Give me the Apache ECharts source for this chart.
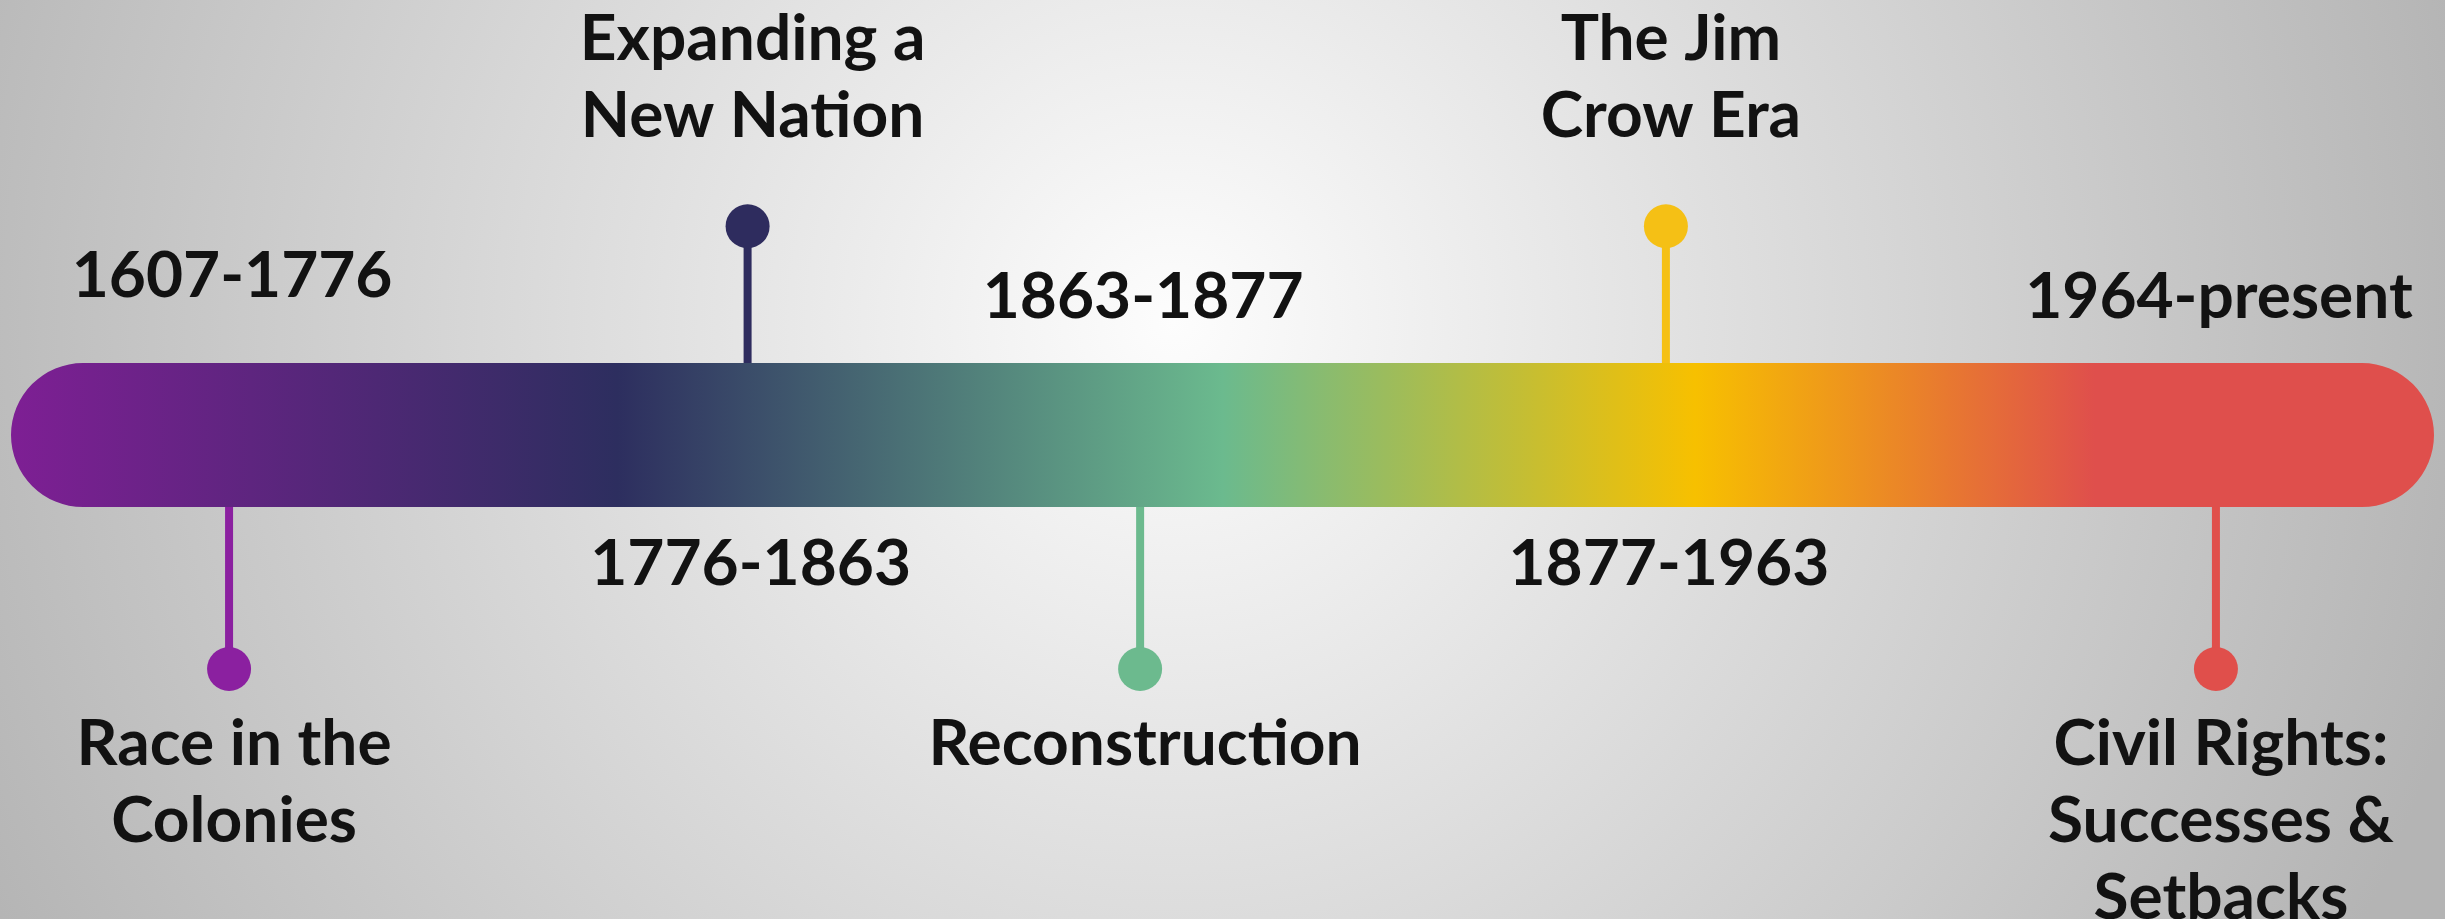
<!DOCTYPE html>
<html>
<head>
<meta charset="utf-8">
<title>Race in America timeline</title>
<script src="https://cdn.jsdelivr.net/npm/echarts@6/dist/echarts.min.js"></script>
<style>
	html, body { margin: 0; padding: 0; }
	#chart { width: 2445px; height: 919px; }
</style>
</head>
<body>
<div id="chart"></div>
<script>
	// eras along the timeline, left to right
	var eraNames = ['Race in the\nColonies', 'Expanding a\nNew Nation', 'Reconstruction', 'The Jim\nCrow Era', 'Civil Rights:\nSuccesses &\nSetbacks'];
	var eraPeriods = ['1607-1776', '1776-1863', '1863-1877', '1877-1963', '1964-present'];
	// where each pin sits on the bar (0 = left end, 100 = right end)
	var eraAt = [9.0, 30.4, 46.6, 68.3, 91.0];
	// 1 = pin above the bar, -1 = pin below
	var eraSide = [-1, 1, -1, 1, -1];
	var timelineSpan = [0, 100];

	var eraColors = ['#8b20a0', '#2e2c5e', '#6cba8e', '#f5c015', '#e04f4b'];
	var textColor = '#121212';
	var fontFamily = 'Lato, "Open Sans", sans-serif';

	var myChart = echarts.init(document.getElementById('chart'));

	var barStops = [
		{offset: 0, color: '#7e1f94'},
		{offset: 0.25, color: '#2d2e5f'},
		{offset: 0.5, color: '#6bba8e'},
		{offset: 0.695, color: '#f7c000'},
		{offset: 0.86, color: '#df4f4c'},
		{offset: 1, color: '#df4f4c'}
	];

	function renderBar(params, api) {
		var a = api.coord([api.value(0), 1]);
		var b = api.coord([api.value(1), -1]);
		var h = b[1] - a[1];
		return {
			type: 'rect',
			shape: {x: a[0], y: a[1], width: b[0] - a[0], height: h, r: h / 2},
			style: {
				fill: new echarts.graphic.LinearGradient(0, 0, 1, 0, barStops)
			}
		};
	}

	function renderPin(params, api) {
		var i = params.dataIndex;
		var x = api.value(0);
		var side = api.value(1);
		var color = eraColors[i];
		var edge = api.coord([x, side]);
		var dot = api.coord([x, side > 0 ? 2.9 : -3.25]);
		var other = api.coord([x, -side]);
		var children = [
			{
				type: 'line',
				shape: {x1: edge[0], y1: edge[1], x2: dot[0], y2: dot[1]},
				style: {stroke: color, lineWidth: 8}
			},
			{
				type: 'circle',
				shape: {cx: dot[0], cy: dot[1], r: 22},
				style: {fill: color}
			},
			{
				type: 'text',
				x: dot[0] + 5,
				y: side > 0 ? dot[1] - 71 : dot[1] + 37,
				style: {
					text: eraNames[i],
					fill: textColor,
					font: 'bold 64px ' + fontFamily,
					lineHeight: 77,
					align: 'center',
					verticalAlign: side > 0 ? 'bottom' : 'top'
				}
			},
			{
				type: 'text',
				x: other[0] + 3,
				y: side > 0 ? other[1] + 57 : other[1] - (i == 0 ? 87 : 66),
				style: {
					text: eraPeriods[i],
					fill: textColor,
					font: 'bold 64px ' + fontFamily,
					align: 'center',
					verticalAlign: 'middle'
				}
			}
		];
		return {type: 'group', children: children};
	}

	var pinData = [];
	for (var k = 0; k < eraAt.length; k++) {
		pinData.push([eraAt[k], eraSide[k]]);
	}

	myChart.setOption({
		animation: false,
		graphic: [{
			type: 'rect',
			z: -10,
			shape: {x: 0, y: 0, width: 2445, height: 919},
			style: {
				fill: new echarts.graphic.RadialGradient(0.48, 0.35, 1.45, [
					{offset: 0, color: '#fdfdfd'},
					{offset: 1, color: '#b4b4b4'}
				])
			}
		}],
		grid: {left: 11, right: 11, top: 0, bottom: 0},
		xAxis: {type: 'value', min: 0, max: 100, show: false},
		yAxis: {type: 'value', min: -6.722, max: 6.042, show: false},
		series: [
			{
				type: 'custom',
				renderItem: renderBar,
				data: [timelineSpan],
				silent: true
			},
			{
				type: 'custom',
				renderItem: renderPin,
				data: pinData,
				z: 3,
				silent: true
			}
		]
	});
</script>
</body>
</html>
